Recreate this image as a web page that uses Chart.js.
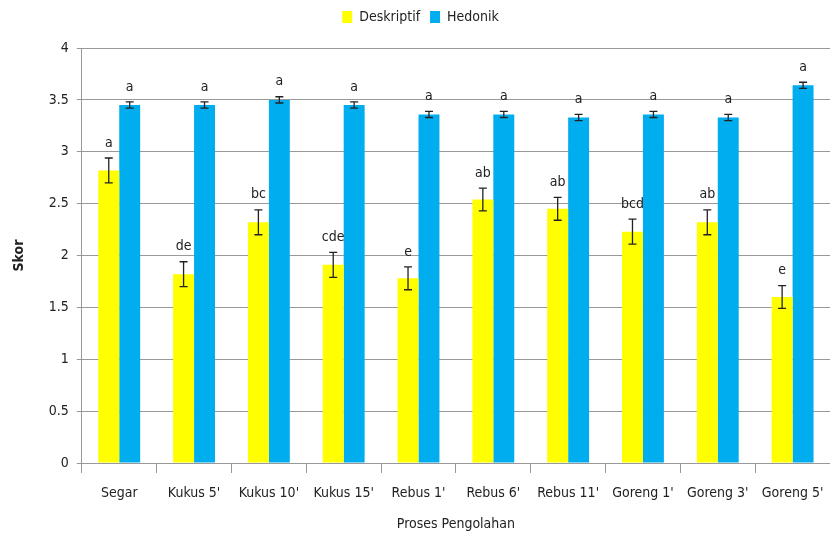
<!DOCTYPE html>
<html>
<head>
<meta charset="utf-8">
<script src="https://cdn.jsdelivr.net/npm/chart.js@4.4.1/dist/chart.umd.min.js"></script>
<style>
  html, body { margin: 0; padding: 0; background: #fff; }
  #wrap { width: 830px; height: 535px; }
</style>
</head>
<body>
<div id="wrap"><canvas id="chart"></canvas></div>
<script>
// Data
const categories = ["Segar", "Kukus 5'", "Kukus 10'", "Kukus 15'", "Rebus 1'", "Rebus 6'", "Rebus 11'", "Goreng 1'", "Goreng 3'", "Goreng 5'"];
const deskriptif = [2.82, 1.82, 2.32, 1.91, 1.78, 2.54, 2.45, 2.23, 2.32, 1.60];
const deskriptifErr = [0.12, 0.12, 0.12, 0.12, 0.11, 0.11, 0.11, 0.12, 0.12, 0.11];
const deskriptifLetters = ["a", "de", "bc", "cde", "e", "ab", "ab", "bcd", "ab", "e"];
const hedonik = [3.45, 3.45, 3.50, 3.45, 3.36, 3.36, 3.33, 3.36, 3.33, 3.64];
const hedonikErr = [0.03, 0.03, 0.03, 0.03, 0.03, 0.03, 0.03, 0.03, 0.03, 0.03];
const hedonikLetters = ["a", "a", "a", "a", "a", "a", "a", "a", "a", "a"];
const yTicks = [0, 0.5, 1, 1.5, 2, 2.5, 3, 3.5, 4];

const FONT = "'DejaVu Sans Condensed', 'Open Sans', sans-serif";

// extra gap under the legend
const legendGap = {
    id: "legendGap",
    beforeInit(chart) {
        const origFit = chart.legend.fit;
        chart.legend.fit = function () {
            origFit.bind(chart.legend)();
            this.height += 14;
        };
    }
};

// error bars + letter labels on top of each bar
const errorBars = {
    id: "errorBars",
    afterDatasetsDraw(chart) {
        const ctx = chart.ctx;
        const yScale = chart.scales.y;
        chart.data.datasets.forEach((ds, i) => {
            const meta = chart.getDatasetMeta(i);
            meta.data.forEach((bar, j) => {
                const v = ds.data[j];
                const e = ds.errors[j];
                const yTop = yScale.getPixelForValue(v + e);
                const yBot = yScale.getPixelForValue(v - e);
                const x = bar.x;
                ctx.save();
                ctx.strokeStyle = "#222";
                ctx.lineWidth = 1.3;
                ctx.beginPath();
                ctx.moveTo(x, yTop); ctx.lineTo(x, yBot);
                ctx.moveTo(x - 4, yTop); ctx.lineTo(x + 4, yTop);
                ctx.moveTo(x - 4, yBot); ctx.lineTo(x + 4, yBot);
                ctx.stroke();
                ctx.fillStyle = "#222";
                ctx.font = "14px " + FONT;
                ctx.textAlign = "center";
                ctx.textBaseline = "bottom";
                ctx.fillText(ds.letters[j], x, yTop - 8);
                ctx.restore();
            });
        });
    }
};

const ctx = document.getElementById("chart").getContext("2d");
new Chart(ctx, {
    type: "bar",
    data: {
        labels: categories,
        datasets: [
            {
                label: "Deskriptif",
                data: deskriptif,
                errors: deskriptifErr,
                letters: deskriptifLetters,
                backgroundColor: "#FFFF00",
            },
            {
                label: "Hedonik",
                data: hedonik,
                errors: hedonikErr,
                letters: hedonikLetters,
                backgroundColor: "#00AEEF",
            },
        ],
    },
    options: {
        responsive: true,
        maintainAspectRatio: false,
        animation: false,
        layout: { padding: { left: 7, right: -4, top: 0, bottom: 2 } },
        datasets: {
            bar: { barPercentage: 1, categoryPercentage: 0.56 },
        },
        plugins: {
            legend: {
                position: "top",
                labels: {
                    boxWidth: 10,
                    boxHeight: 12,
                    padding: 10,
                    color: "#222",
                    font: { family: FONT, size: 14 },
                },
            },
            tooltip: { enabled: false },
        },
        scales: {
            x: {
                afterFit: (scale) => {
                    scale.height = 70;
                    scale.paddingRight = 0;
                },
                grid: { offset: true, drawOnChartArea: false, tickLength: 10, color: "#999" },
                border: { color: "#999" },
                ticks: { color: "#222", font: { family: FONT, size: 14 }, padding: 12, maxRotation: 0 },
                title: {
                    display: true,
                    text: "Proses Pengolahan",
                    color: "#222",
                    font: { family: FONT, size: 14 },
                    padding: { top: 8, bottom: 0 },
                },
            },
            y: {
                min: 0,
                max: 4,
                afterBuildTicks: (axis) => { axis.ticks = yTicks.map((v) => ({ value: v })); },
                grid: { color: "#999", tickLength: 5 },
                border: { color: "#999" },
                ticks: {
                    color: "#222",
                    font: { family: FONT, size: 14 },
                    padding: 8,
                    callback: (v) => String(v),
                },
                title: {
                    display: true,
                    text: "Skor",
                    color: "#222",
                    font: { family: FONT, size: 14, weight: "bold" },
                    padding: { bottom: 13 },
                },
            },
        },
    },
    plugins: [legendGap, errorBars],
});
</script>
</body>
</html>
